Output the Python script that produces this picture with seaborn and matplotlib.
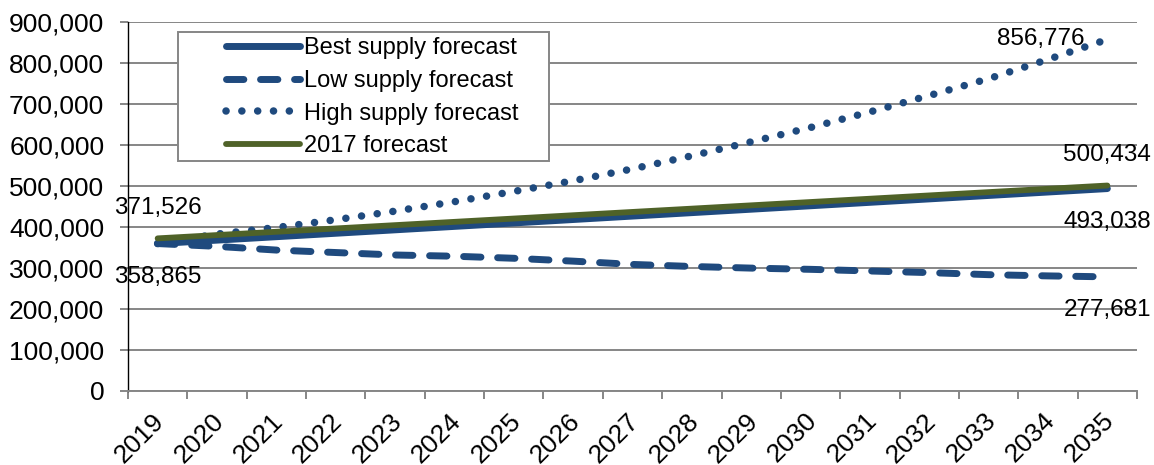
import numpy as np
import pandas as pd
import matplotlib
matplotlib.use("Agg")
import matplotlib.pyplot as plt
from matplotlib.patches import Rectangle
from matplotlib.ticker import FuncFormatter, FixedLocator
from matplotlib.transforms import ScaledTranslation
import seaborn as sns

years = [str(y) for y in range(2019, 2036)]
best = [358865, 367251, 375637, 384022, 392408, 400794, 409180, 417566, 425952,
        434337, 442723, 451109, 459495, 467881, 476267, 484652, 493038]
low = [358865, 352000, 343000, 337000, 331000, 328000, 323000, 316000, 308000,
       303000, 299000, 296000, 292000, 288000, 283000, 280000, 277681]
high = [358865, 382000, 398000, 417000, 438000, 461000, 486000, 512000, 541000,
        573000, 607000, 642000, 680000, 720000, 761000, 808000, 856776]
f2017 = [371526, 379583, 387640, 395697, 403754, 411811, 419868, 427925, 435982,
         444037, 452094, 460151, 468208, 476265, 484322, 492379, 500434]
series_names = ["Best supply forecast", "Low supply forecast",
                "High supply forecast", "2017 forecast"]

sns.set_theme(style="white")
plt.rcParams["font.family"] = ["Liberation Sans", "DejaVu Sans"]
plt.rcParams["text.color"] = "black"
plt.rcParams["xtick.labelcolor"] = "black"
plt.rcParams["ytick.labelcolor"] = "black"

BLUE = "#1F4A7E"
GREEN = "#4F6228"
GRID = "#868686"

fig = plt.figure(figsize=(11.54, 4.65), dpi=100)
ax = fig.add_axes([0.1109, 0.1598, 0.9853 - 0.1109, 0.9533 - 0.1598])

x = np.arange(len(years))
df = pd.DataFrame({"x": x, "best": best, "low": low, "high": high, "f2017": f2017})

sns.lineplot(data=df, x="x", y="best", ax=ax, color=BLUE, linewidth=5.0,
             solid_capstyle="round", label=series_names[0], zorder=3)
sns.lineplot(data=df, x="x", y="low", ax=ax, color=BLUE, linewidth=5.0,
             linestyle=(0, (2.5, 2.4)), dash_capstyle="round",
             label=series_names[1], zorder=3)
sns.lineplot(data=df, x="x", y="high", ax=ax, color=BLUE, linewidth=5.4,
             linestyle=(0, (0.01, 2.1)), dash_capstyle="round",
             label=series_names[2], zorder=3)
sns.lineplot(data=df, x="x", y="f2017", ax=ax, color=GREEN, linewidth=4.2,
             solid_capstyle="round", label=series_names[3], zorder=4)

ax.set_xlim(-0.5, len(years) - 0.5)
ax.set_ylim(0, 900000)
ax.set_xlabel("")
ax.set_ylabel("")

ax.set_yticks(np.arange(0, 900001, 100000))
ax.yaxis.set_major_formatter(FuncFormatter(lambda v, p: f"{v:,.0f}"))
ax.grid(axis="y", color=GRID, linewidth=1.4)
ax.grid(axis="x", visible=False)
ax.tick_params(axis="y", which="major", length=6, width=1.4, color=GRID,
               pad=11, labelsize=19, left=True, labelcolor="black")

ax.set_xticks(x)
ax.set_xticklabels(years)
ax.xaxis.set_minor_locator(FixedLocator(np.arange(-0.5, len(years), 1.0)))
ax.tick_params(axis="x", which="major", length=0, pad=19, labelsize=19,
               labelcolor="black")
ax.tick_params(axis="x", which="minor", length=6, width=1.4, color=GRID,
               bottom=True)
shift = ScaledTranslation(3 / 100, 0, fig.dpi_scale_trans)
for lab in ax.get_xticklabels():
    lab.set_rotation(45)
    lab.set_ha("right")
    lab.set_va("center")
    lab.set_rotation_mode("anchor")
    lab.set_transform(lab.get_transform() + shift)

for s in ["top", "right"]:
    ax.spines[s].set_visible(False)
ax.spines["left"].set_color("black")
ax.spines["left"].set_linewidth(1.0)
ax.spines["bottom"].set_color(GRID)
ax.spines["bottom"].set_linewidth(1.4)

# data labels
lab_kw = dict(textcoords="offset points", fontsize=17.5, color="black",
              ha="center", va="center")
ax.annotate(f"{f2017[0]:,}", (0, f2017[0]), xytext=(0, 22), **lab_kw)
ax.annotate(f"{best[0]:,}", (0, best[0]), xytext=(0, -24), **lab_kw)
ax.annotate(f"{high[-1]:,}", (16, high[-1]), xytext=(-48, 0), **lab_kw)
ax.annotate(f"{f2017[-1]:,}", (16, f2017[-1]), xytext=(0, 22), **lab_kw)
ax.annotate(f"{best[-1]:,}", (16, best[-1]), xytext=(0, -24), **lab_kw)
ax.annotate(f"{low[-1]:,}", (16, low[-1]), xytext=(0, -24), **lab_kw)

# legend box
W, H = 1154, 465
ax.add_patch(Rectangle((178 / W, 1 - 161 / H), (549 - 178) / W, (161 - 32) / H,
                       transform=fig.transFigure, facecolor="white",
                       edgecolor=GRID, linewidth=1.4, zorder=5, clip_on=False))
leg = ax.legend(loc="upper left", bbox_to_anchor=(224 / W, 1 - 35 / H),
                bbox_transform=fig.transFigure, frameon=False, fontsize=17,
                handlelength=3.1, handletextpad=0.2, labelspacing=0.45,
                borderpad=0.1, borderaxespad=0)
leg.set_zorder(6)
for t in leg.get_texts():
    t.set_color("black")

fig.savefig("out.png", dpi=100)
